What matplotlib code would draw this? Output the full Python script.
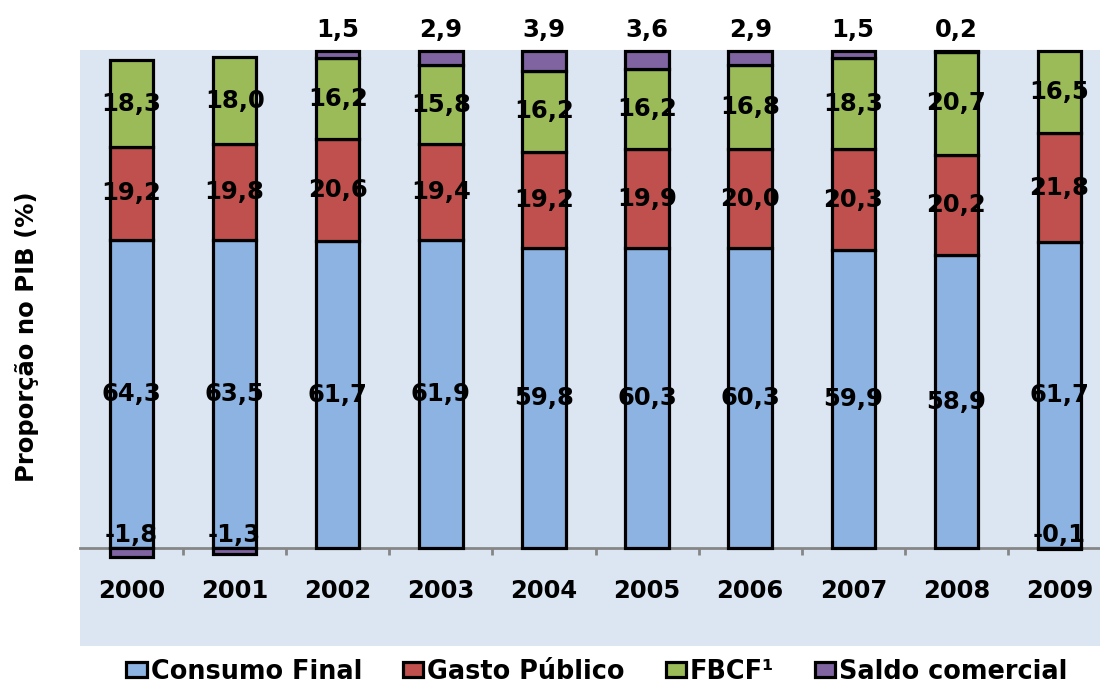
import matplotlib
matplotlib.use("Agg")
import matplotlib.pyplot as plt
import numpy as np

# --- DADOS (% do PIB) ---
anos = ["2000", "2001", "2002", "2003", "2004", "2005", "2006", "2007", "2008", "2009"]
consumo_final = [64.3, 63.5, 61.7, 61.9, 59.8, 60.3, 60.3, 59.9, 58.9, 61.7]
gasto_publico = [19.2, 19.8, 20.6, 19.4, 19.2, 19.9, 20.0, 20.3, 20.2, 21.8]
fbcf = [18.3, 18.0, 16.2, 15.8, 16.2, 16.2, 16.8, 18.3, 20.7, 16.5]
saldo_comercial = [-1.8, -1.3, 1.5, 2.9, 3.9, 3.6, 2.9, 1.5, 0.2, -0.1]

# --- ESTILO ---
cor_consumo = "#8DB3E2"
cor_gasto = "#C0504D"
cor_fbcf = "#9BBB59"
cor_saldo = "#8064A2"
cor_fundo = "#DCE6F2"
cor_eixo = "#868686"
fonte = "DejaVu Sans"
tam = 17.5

plt.rcParams["font.family"] = fonte
plt.rcParams["font.weight"] = "bold"


def fmt(v):
    return f"{v:.1f}".replace(".", ",")


# grafico de colunas 100% empilhadas (soma dos valores absolutos = 100)
c = np.array(consumo_final)
g = np.array(gasto_publico)
f = np.array(fbcf)
s = np.array(saldo_comercial)
total = np.abs(c) + np.abs(g) + np.abs(f) + np.abs(s)
pc, pg, pf, ps = (c / total * 100, g / total * 100, f / total * 100, s / total * 100)

fig = plt.figure(figsize=(11, 6.83), dpi=100)
ax = fig.add_axes([80 / 1100, 37 / 683, 1031 / 1100, 596 / 683])
ax.set_facecolor(cor_fundo)

x = np.arange(len(anos))
larg = 0.42
kw = dict(width=larg, edgecolor="black", linewidth=2.3, clip_on=False, zorder=3)

ax.bar(x, pc, color=cor_consumo, label="Consumo Final", **kw)
ax.bar(x, pg, bottom=pc, color=cor_gasto, label="Gasto Público", **kw)
ax.bar(x, pf, bottom=pc + pg, color=cor_fbcf, label="FBCF¹", **kw)
base_saldo = np.where(ps > 0, pc + pg + pf, 0)
ax.bar(x, ps, bottom=base_saldo, color=cor_saldo, label="Saldo comercial", **kw)

# rotulos dentro das colunas
for i in range(len(anos)):
    ax.text(x[i], pc[i] / 2, fmt(c[i]), ha="center", va="center",
            fontsize=tam, zorder=5)
    ax.text(x[i], pc[i] + pg[i] / 2, fmt(g[i]), ha="center", va="center",
            fontsize=tam, zorder=5)
    ax.text(x[i], pc[i] + pg[i] + pf[i] / 2, fmt(f[i]), ha="center",
            va="center", fontsize=tam, zorder=5)
    if s[i] > 0:
        ax.text(x[i], 102.8, fmt(s[i]), ha="center", va="baseline",
                fontsize=tam, zorder=5, clip_on=False)
    else:
        ax.text(x[i], 1.2, fmt(s[i]), ha="center", va="baseline",
                fontsize=tam, zorder=5)

# anos abaixo do eixo
for i, ano in enumerate(anos):
    ax.text(x[i], -10.1, ano, ha="center", va="baseline", fontsize=tam)

ax.set_xlim(-0.5, 9.5)
ax.set_ylim(-19.7, 100.2)

# eixo horizontal no zero, com marcas entre as categorias
for lado in ["left", "right", "top"]:
    ax.spines[lado].set_visible(False)
ax.spines["bottom"].set_position(("data", 0))
ax.spines["bottom"].set_color(cor_eixo)
ax.spines["bottom"].set_linewidth(2)
ax.spines["bottom"].set_zorder(2)
ax.set_xticks(x + 0.5)
ax.set_xticklabels([])
ax.tick_params(axis="x", direction="out", length=5, width=2, color=cor_eixo)
ax.set_yticks([])

fig.text(27 / 1100, 1 - 337 / 683, "Proporção no PIB (%)", rotation=90,
         ha="center", va="center", fontsize=tam)

fig.legend(loc="lower center", bbox_to_anchor=(597 / 1100, -0.021), ncol=4,
           frameon=False, fontsize=18.4, handlelength=0.8, handleheight=0.55,
           handletextpad=0.15, columnspacing=1.6, borderpad=0)

fig.savefig("out.png", dpi=100)
